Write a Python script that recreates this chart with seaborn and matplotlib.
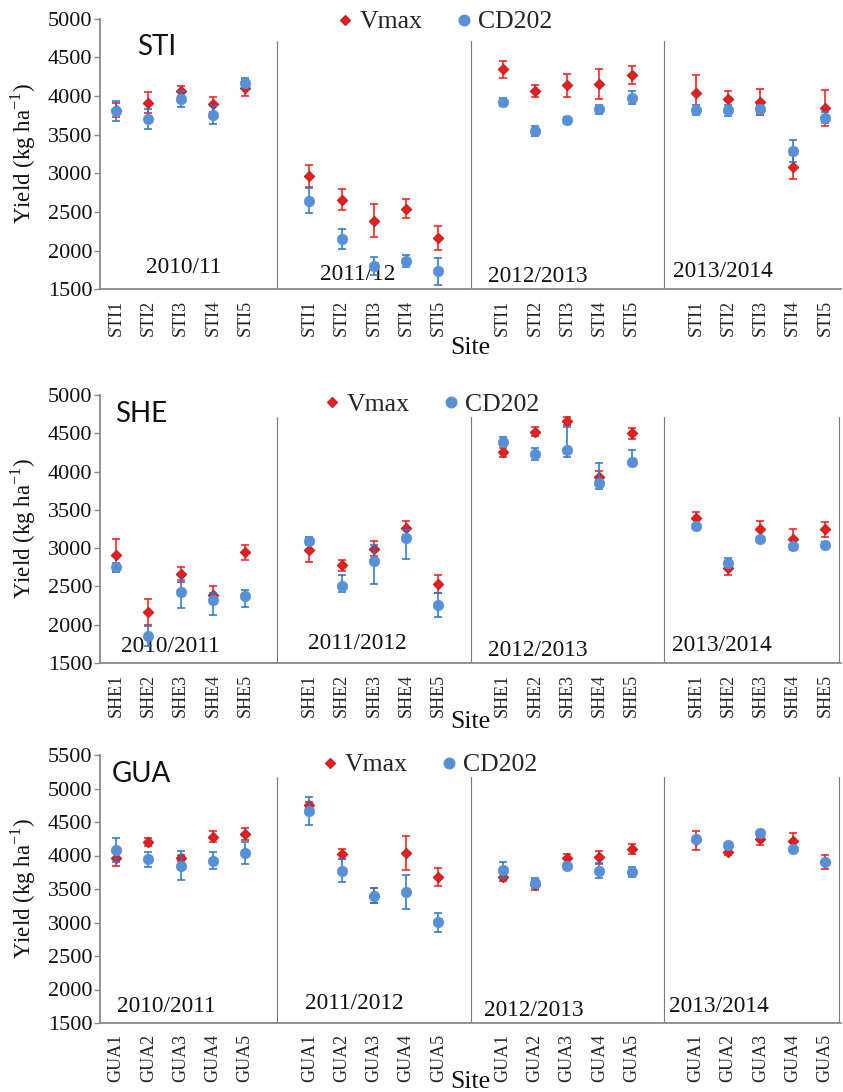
import numpy as np
import pandas as pd
import matplotlib
matplotlib.use("Agg")
import matplotlib.pyplot as plt
import seaborn as sns
from matplotlib.lines import Line2D

sns.set_theme(style="white")
plt.rcParams['font.family'] = ['Liberation Serif', 'DejaVu Serif']
plt.rcParams['mathtext.fontset'] = 'custom'
plt.rcParams['mathtext.rm'] = 'Liberation Serif'

# ---------------- data ----------------
cultivars = ["Vmax", "CD202"]
sites_STI = ["STI1", "STI2", "STI3", "STI4", "STI5"]
sites_SHE = ["SHE1", "SHE2", "SHE3", "SHE4", "SHE5"]
sites_GUA = ["GUA1", "GUA2", "GUA3", "GUA4", "GUA5"]
seasons_STI = ["2010/11", "2011/12", "2012/2013", "2013/2014"]
seasons_SHE = ["2010/2011", "2011/2012", "2012/2013", "2013/2014"]
seasons_GUA = ["2010/2011", "2011/2012", "2012/2013", "2013/2014"]

# values listed season by season (5 sites each)
sti_vmax = [3820, 3915, 4063, 3890, 4100,
            2964, 2662, 2391, 2542, 2167,
            4346, 4061, 4139, 4152, 4268,
            4044, 3958, 3919, 3084, 3846]
sti_vmax_err = [95, 140, 60, 100, 100,
                140, 140, 210, 125, 155,
                110, 75, 150, 195, 118,
                225, 112, 165, 155, 230]
sti_cd = [3808, 3697, 3958, 3752, 4165,
          2649, 2154, 1801, 1866, 1737,
          3924, 3553, 3691, 3825, 3975,
          3820, 3812, 3825, 3287, 3721]
sti_cd_err = [130, 130, 105, 115, 65,
              165, 130, 115, 75, 175,
              55, 65, 35, 60, 85,
              60, 65, 55, 140, 75]

she_vmax = [2904, 2165, 2657, 2391, 2944,
            2974, 2778, 2991, 3265, 2535,
            4252, 4521, 4660, 3933, 4500,
            3390, 2745, 3246, 3115, 3246]
she_vmax_err = [210, 170, 95, 110, 93,
                150, 72, 98, 95, 115,
                60, 60, 50, 75, 72,
                78, 90, 108, 140, 96]
she_cd = [2752, 1857, 2426, 2317, 2370,
          3087, 2509, 2835, 3130, 2261,
          4382, 4226, 4282, 3847, 4121,
          3289, 2810, 3115, 3028, 3041]
she_cd_err_lo = [70, 140, 210, 195, 145,
                 40, 87, 300, 270, 165,
                 40, 70, 95, 80, 40,
                 25, 40, 25, 25, 25]
she_cd_err_hi = [50, 130, 160, 100, 87,
                 65, 134, 208, 110, 152,
                 74, 85, 296, 270, 160,
                 25, 65, 25, 25, 40]

gua_vmax = [3958, 4206, 3958, 4281, 4321,
            4755, 4024, 3400, 4039, 3681,
            3684, 3560, 3958, 3973, 4093,
            4224, 4057, 4242, 4221, 3903]
gua_vmax_err = [110, 60, 45, 82, 88,
                42, 72, 115, 250, 137,
                65, 75, 65, 97, 75,
                142, 50, 85, 110, 105]
gua_cd = [4082, 3943, 3848, 3922, 4042,
          4665, 3776, 3398, 3453, 3001,
          3784, 3594, 3843, 3773, 3749,
          4242, 4157, 4340, 4093, 3908]
gua_cd_err = [184, 108, 216, 125, 162,
              215, 170, 110, 250, 146,
              115, 75, 25, 113, 75,
              25, 25, 25, 25, 25]

panels = [
    dict(name="STI", sites=sites_STI, seasons=seasons_STI,
         vmax=sti_vmax, vmax_lo=sti_vmax_err, vmax_hi=sti_vmax_err,
         cd=sti_cd, cd_lo=sti_cd_err, cd_hi=sti_cd_err,
         yticks=list(range(1500, 5001, 500))),
    dict(name="SHE", sites=sites_SHE, seasons=seasons_SHE,
         vmax=she_vmax, vmax_lo=she_vmax_err, vmax_hi=she_vmax_err,
         cd=she_cd, cd_lo=she_cd_err_lo, cd_hi=she_cd_err_hi,
         yticks=list(range(1500, 5001, 500))),
    dict(name="GUA", sites=sites_GUA, seasons=seasons_GUA,
         vmax=gua_vmax, vmax_lo=gua_vmax_err, vmax_hi=gua_vmax_err,
         cd=gua_cd, cd_lo=gua_cd_err, cd_hi=gua_cd_err,
         yticks=list(range(1500, 5501, 500))),
]

# ---------------- layout (pixels) ----------------
W, H = 843, 1092
AX_L, AX_R = 100, 841
ax_tb = [(18.5, 289.5), (395, 663), (755, 1023)]
name_pos = [(137, 55), (115, 422), (112, 782)]
season_pos = [
    [(146, 272.7), (320, 280), (488, 281.7), (673, 277.3)],
    [(121, 651.7), (308, 649.3), (488, 656), (672, 651)],
    [(117, 1011.7), (305, 1009.3), (484, 1016), (669, 1011.7)],
]
legend_pos = [(446, 22), (433, 405), (431, 765)]

RED = "#F21A1A"
RED_EDGE = "#B52A2A"
RED_ERR = "#FF1A1A"
BLUE = "#5890D8"
BLUE_ERR = "#2878CC"
AXIS_C = "#8A8A8A"
SEP_C = "#7A7A7A"

fig = plt.figure(figsize=(W / 100, H / 100), dpi=100)

for i, p in enumerate(panels):
    top, bot = ax_tb[i]
    axh = bot - top
    ax = fig.add_axes([AX_L / W, 1 - bot / H, (AX_R - AX_L) / W, axh / H])

    pos = [6 * k + j for k in range(4) for j in range(5)]
    rows = []
    for c, vals in zip(cultivars, [p["vmax"], p["cd"]]):
        for x, v in zip(pos, vals):
            rows.append(dict(pos=x, yld=v, cultivar=c))
    df = pd.DataFrame(rows)

    # Vmax: error bars then markers
    ax.errorbar(pos, p["vmax"], yerr=[p["vmax_lo"], p["vmax_hi"]], fmt="none",
                ecolor=RED_ERR, elinewidth=1.15, capsize=2.9, capthick=1.15, zorder=2)
    sns.scatterplot(data=df[df.cultivar == "Vmax"], x="pos", y="yld", marker="D",
                    color=RED, edgecolor=RED_EDGE, linewidth=0.9, s=27, ax=ax,
                    legend=False, zorder=3)
    # CD202: error bars then markers
    ax.errorbar(pos, p["cd"], yerr=[p["cd_lo"], p["cd_hi"]], fmt="none",
                ecolor=BLUE_ERR, elinewidth=1.15, capsize=2.9, capthick=1.15, zorder=4)
    sns.scatterplot(data=df[df.cultivar == "CD202"], x="pos", y="yld", marker="o",
                    color=BLUE, edgecolor=BLUE, linewidth=0.3, s=60, ax=ax,
                    legend=False, zorder=5)

    ax.set_xlim(-0.5, 22.5)
    ax.set_ylim(p["yticks"][0], p["yticks"][-1])
    ax.set_yticks(p["yticks"])
    ax.set_yticklabels([str(t) for t in p["yticks"]], fontsize=16, color="#111111")
    ax.set_xticks(pos)
    ax.set_xticklabels(p["sites"] * 4, rotation=90, fontsize=13, color="#222222")
    ax.set_xticks(np.arange(-0.5, 23, 1.0), minor=True)
    ax.tick_params(axis="x", which="major", length=0, pad=7.5)
    ax.tick_params(axis="x", which="minor", length=4, width=1, color=AXIS_C, direction="out")
    ax.tick_params(axis="y", which="major", length=4, width=1, color=AXIS_C,
                   direction="out", pad=1.5, left=True)
    ax.grid(False)
    for s in ["top", "right"]:
        ax.spines[s].set_visible(False)
    for s in ["left", "bottom"]:
        ax.spines[s].set_color(AXIS_C)
        ax.spines[s].set_linewidth(1.3)

    # season separators
    seps = [5, 11, 17] + ([22.45] if i > 0 else [])
    for xs in seps:
        ax.axvline(xs, ymin=0, ymax=0.918, color=SEP_C, lw=0.8, zorder=1)

    def fx(px):
        return (px - AX_L) / (AX_R - AX_L)

    def fy(py):
        return (bot - py) / axh

    # panel name
    ax.text(fx(name_pos[i][0]), fy(name_pos[i][1]), p["name"], transform=ax.transAxes,
            ha="left", va="baseline", fontsize=20, family=["Lato", "DejaVu Sans"],
            color="#111111")
    # season labels
    for (px, py), lab in zip(season_pos[i], p["seasons"]):
        ax.text(fx(px), fy(py), lab, transform=ax.transAxes, ha="left",
                va="baseline", fontsize=16.8, color="#111111")

    ax.set_ylabel(r"Yield (kg ha$^{\mathregular{-1}}$)", fontsize=16.5, color="#111111")
    ax.yaxis.set_label_coords(fx(38), 0.5)
    ax.set_xlabel("Site", fontsize=18.5, color="#111111")
    ax.xaxis.set_label_coords(0.5, fy(bot + 48))

    handles = [
        Line2D([], [], ls="none", marker="D", markersize=4.7, markerfacecolor=RED,
               markeredgecolor=RED_EDGE, markeredgewidth=0.9),
        Line2D([], [], ls="none", marker="o", markersize=7.6, markerfacecolor=BLUE,
               markeredgecolor=BLUE),
    ]
    lx, ly = legend_pos[i]
    ax.legend(handles, cultivars, loc="center", bbox_to_anchor=(fx(lx), fy(ly)),
              ncol=2, frameon=False, fontsize=18.5, handlelength=0.4,
              handletextpad=0.35, columnspacing=1.4, borderaxespad=0, borderpad=0)

fig.savefig("out.png", dpi=100)
